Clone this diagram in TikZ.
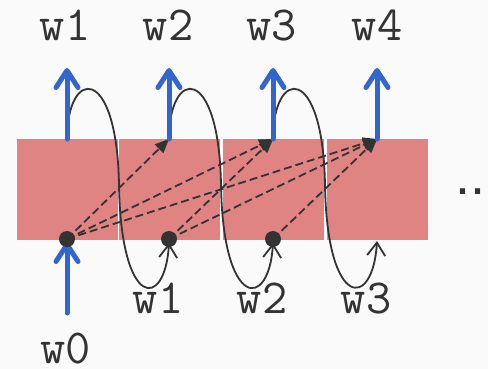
\documentclass[tikz,border=0pt]{standalone}
\usepackage{fontspec}
\newfontfamily\dotsfont{Liberation Sans}
\usetikzlibrary{arrows.meta}
\definecolor{bg}{HTML}{FAFAFA}
\definecolor{cell}{HTML}{E08383}
\definecolor{blu}{HTML}{3366CC}
\definecolor{ink}{HTML}{333333}
\begin{document}
\begin{tikzpicture}[x=1pt,y=-1pt,
  cellbox/.style={fill=cell,draw=none,minimum width=101pt,minimum height=101pt,inner sep=0pt,outer sep=0pt},
  lbl/.style={font=\ttfamily\fontsize{49}{49}\selectfont,text=ink,anchor=base,inner sep=0pt},
  dotnode/.style={circle,fill=ink,draw=none,minimum size=16pt,inner sep=0pt},
  bluearrow/.style={draw=blu,line width=5pt,line cap=round,-{Straight Barb[length=17pt,width=22pt,line cap=round,line join=round]}},
  dasharrow/.style={draw=ink,line width=1.8pt,dash pattern=on 8pt off 4pt,-{Triangle[length=14pt,width=12pt]}},
  looparrow/.style={draw=ink,line width=1.8pt,-{Straight Barb[length=13pt,width=18pt]}}]
\useasboundingbox (0,0) rectangle (488,369);
\fill[bg] (0,0) rectangle (488,369);
% cells
\node[cellbox] (c1) at (67.5,189.5) {};
\node[cellbox] (c2) at (169.5,189.5) {};
\node[cellbox] (c3) at (273.5,189.5) {};
\node[cellbox] (c4) at (377.5,189.5) {};
% anchor points
\coordinate (t1) at (67,139);
\coordinate (t2) at (169,139);
\coordinate (t3) at (273,139);
\coordinate (t4) at (377,139);
\coordinate (u1) at (67,68);
\coordinate (u2) at (169,68);
\coordinate (u3) at (273,68);
\coordinate (u4) at (377,68);
\coordinate (b3) at (377,241);
\coordinate (s0) at (67,313);
\coordinate (e0) at (67,242);
% labels
\node[lbl] (o1) at (65,41) {w1};
\node[lbl] (o2) at (168,41) {w2};
\node[lbl] (o3) at (271.5,41) {w3};
\node[lbl] (o4) at (377,41) {w4};
\node[lbl] (i1) at (158,313) {w1};
\node[lbl] (i2) at (262,313) {w2};
\node[lbl] (i3) at (366,313) {w3};
\node[lbl] (i0) at (65.5,363) {w0};
\node[font=\dotsfont\fontsize{54}{54}\selectfont,text=ink,anchor=base west,inner sep=0pt] (more) at (455.5,194) {..};
% dot positions
\coordinate (d0) at (67,239);
\coordinate (d1) at (169,239);
\coordinate (d2) at (273,239);
% dashed attention arrows
\draw[dasharrow] (d0) -- (t2);
\draw[dasharrow] (d0) -- (t3);
\draw[dasharrow] (d0) -- (t4);
\draw[dasharrow] (d1) -- (t3);
\draw[dasharrow] (d1) -- (t4);
\draw[dasharrow] (d2) -- (t4);
% feedback loops
\draw[looparrow] (t1) .. controls (67,68) and (117,63) .. (119,185) .. controls (121,310) and (165,310) .. (169,243);
\draw[looparrow] (t2) .. controls (169,68) and (219,63) .. (221,185) .. controls (223,310) and (269,310) .. (273,243);
\draw[looparrow] (t3) .. controls (273,68) and (323,63) .. (325,185) .. controls (327,310) and (373,310) .. (b3);
% blue arrows
\draw[bluearrow] (t1) -- (u1);
\draw[bluearrow] (t2) -- (u2);
\draw[bluearrow] (t3) -- (u3);
\draw[bluearrow] (t4) -- (u4);
\draw[bluearrow] (s0) -- (e0);
% dots
\node[dotnode] (n0) at (d0) {};
\node[dotnode] (n1) at (d1) {};
\node[dotnode] (n2) at (d2) {};
\end{tikzpicture}
\end{document}
